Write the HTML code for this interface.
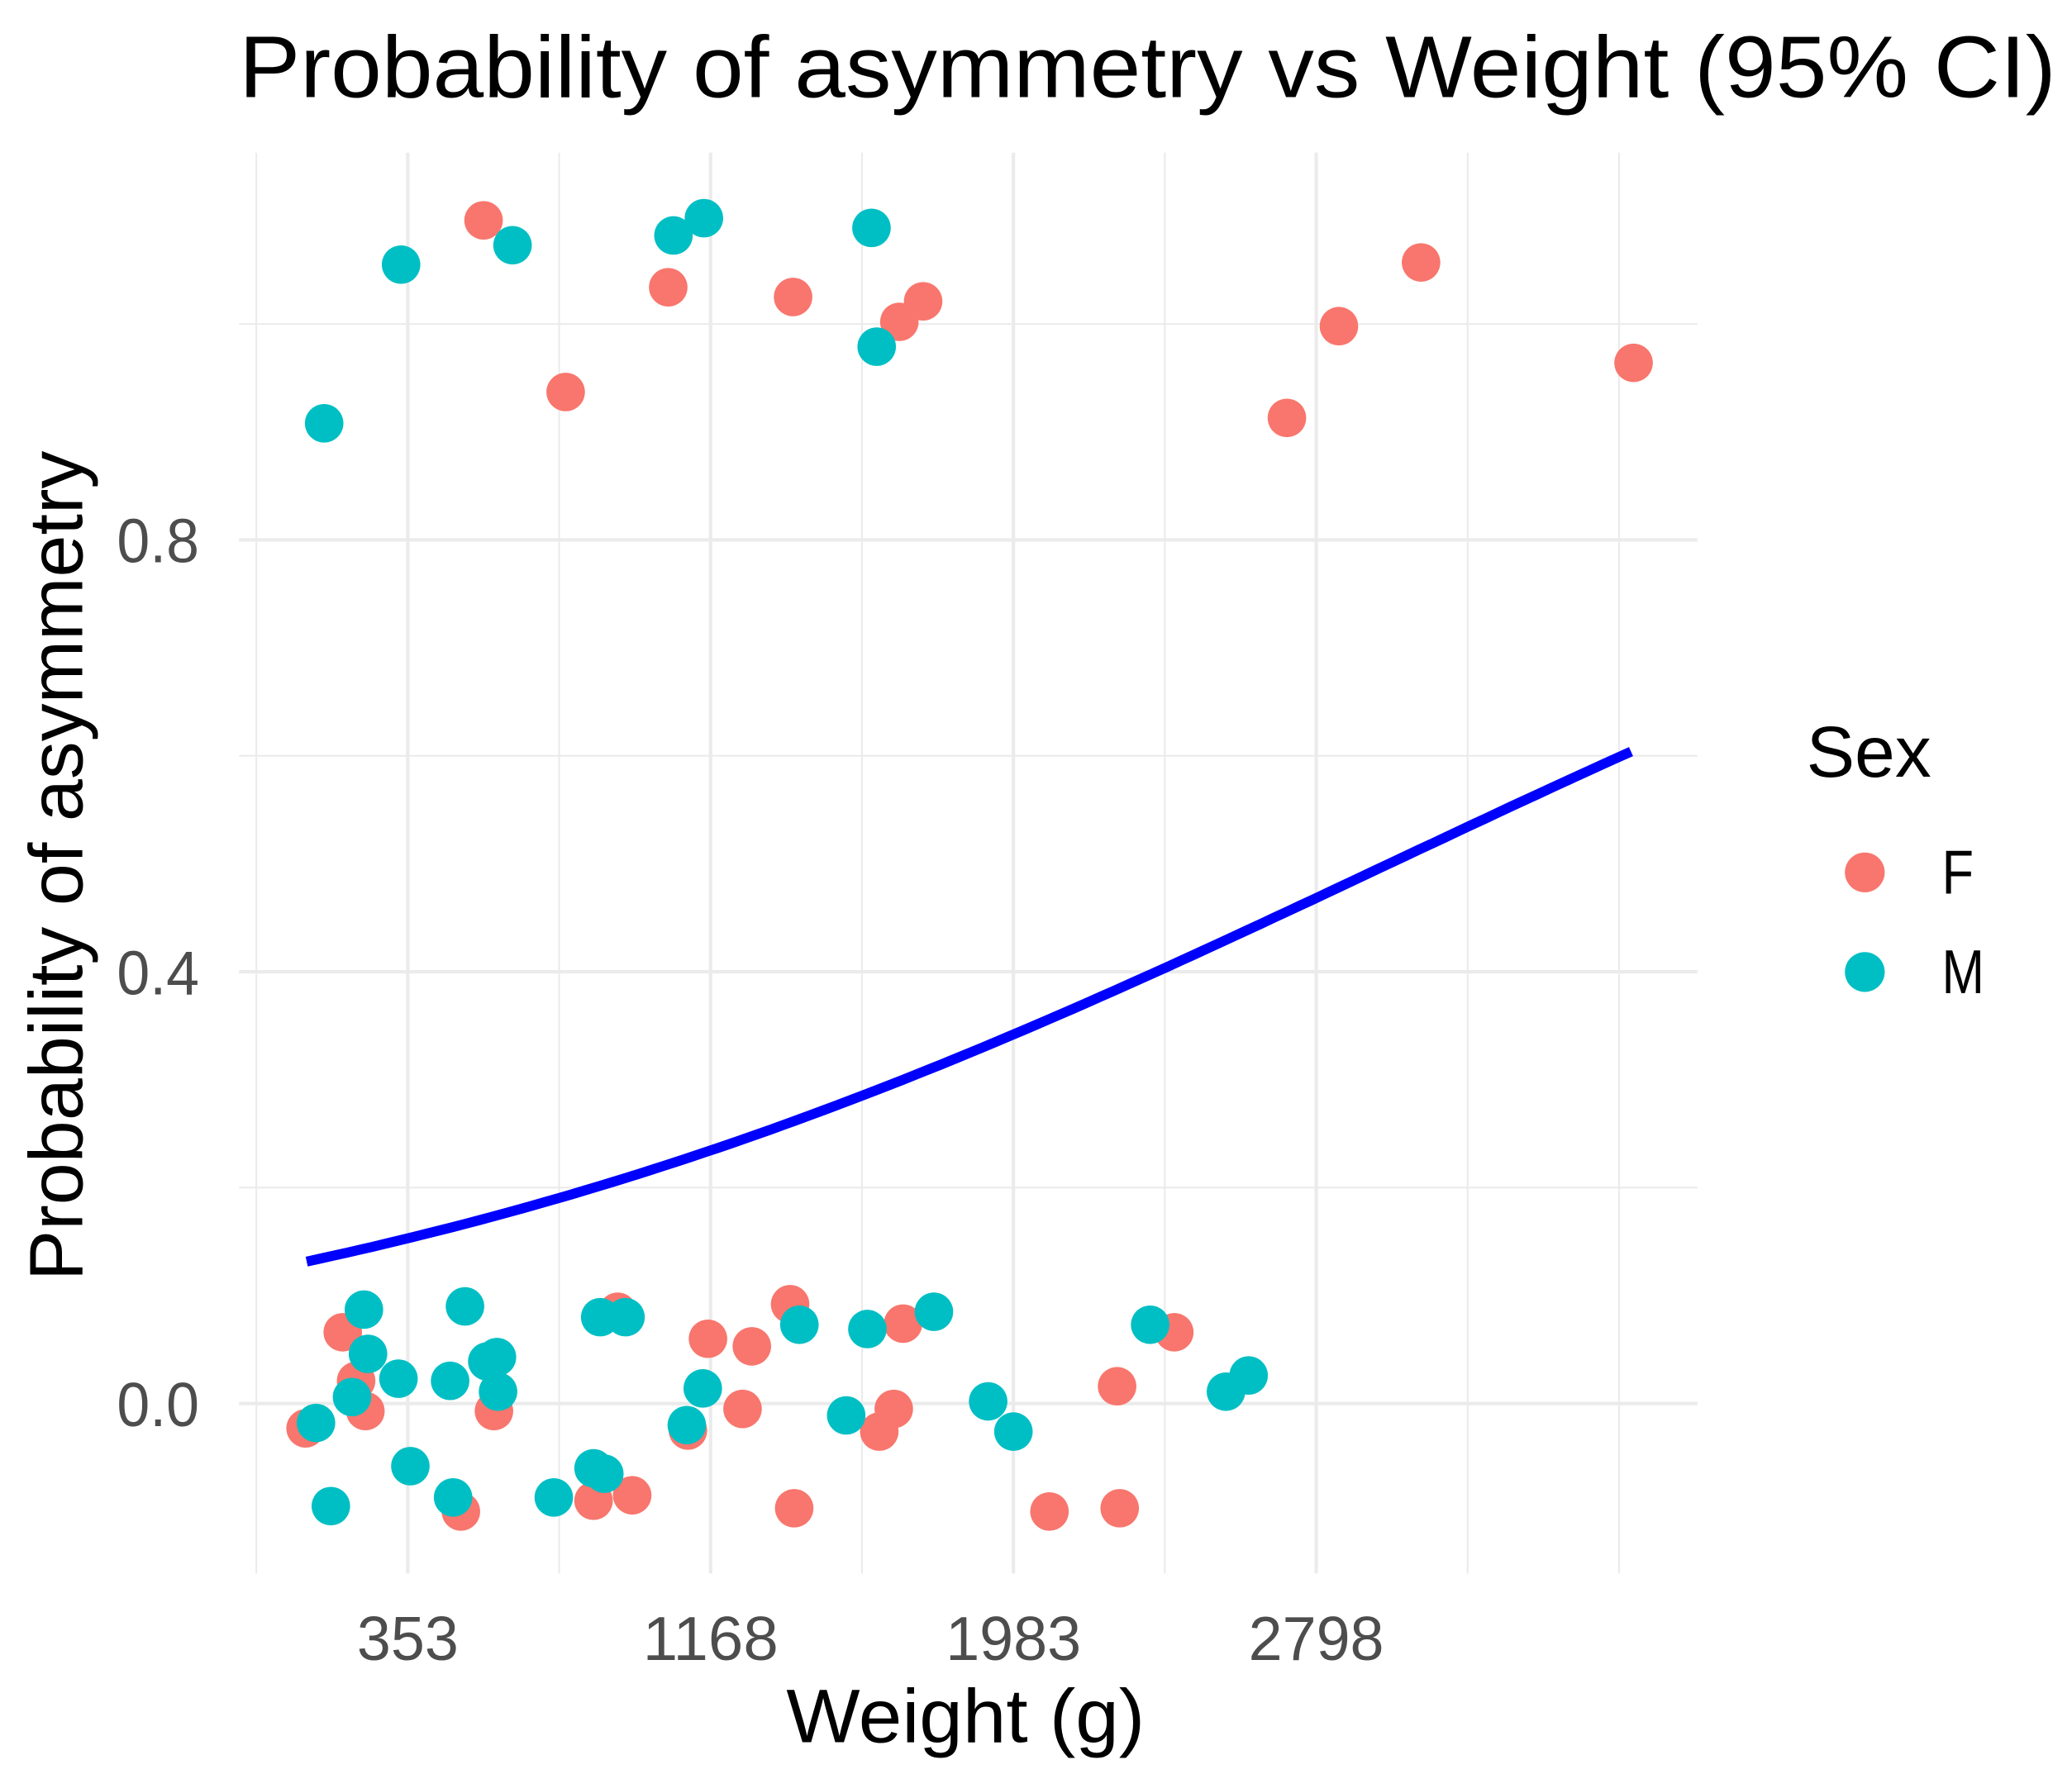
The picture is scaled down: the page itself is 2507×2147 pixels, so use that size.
<!DOCTYPE html>
<html><head><meta charset="utf-8"><style>
html,body{margin:0;padding:0;background:#fff;}
svg{display:block;}
text{font-family:"Liberation Sans",Arial,sans-serif;}
</style></head><body>
<svg id="chart" width="2507" height="2147" viewBox="0 0 1560 1336" preserveAspectRatio="none" xmlns="http://www.w3.org/2000/svg">
<text x="180" y="73" font-size="66" fill="#000" textLength="1368" lengthAdjust="spacingAndGlyphs">Probability of asymmetry vs Weight (95% CI)</text>
<g id="grid"></g>
<g id="marks"></g>
<g id="axes"></g>
<text transform="translate(62,652) rotate(-90)" text-anchor="middle" font-size="57" fill="#000" textLength="625" lengthAdjust="spacingAndGlyphs">Probability of asymmetry</text>
<text x="727" y="1312" text-anchor="middle" font-size="57" fill="#000" textLength="270" lengthAdjust="spacingAndGlyphs">Weight (g)</text>
<g>
<text x="1360" y="585" font-size="54" fill="#000" textLength="94" lengthAdjust="spacingAndGlyphs">Sex</text>
<circle cx="1404" cy="657" r="15" fill="#F8766D"/>
<text x="1462" y="673" font-size="47" fill="#000" textLength="24" lengthAdjust="spacingAndGlyphs">F</text>
<circle cx="1404" cy="732" r="15" fill="#00BFC4"/>
<text x="1462" y="748" font-size="47" fill="#000" textLength="32" lengthAdjust="spacingAndGlyphs">M</text>
</g>
</svg>
<script>
const xTicks = [353, 1168, 1983, 2798];
const xMinor = [-54.5, 760.5, 1575.5, 2390.5, 3205.5, 3613];
const yTicks = [0.0, 0.4, 0.8];
const yTickLabels = ["0.0", "0.4", "0.8"];
const yMinor = [0.2, 0.6, 1.0];
const wF = [557,778,1054,1390,1676,1740,2719,2859,3080,3652,78,178,214,239,496,585,853,918,957,1107,1161,1254,1279,1382,1393,1622,1661,1686,2080,2262,2269,2416];
const pF = [1.096,0.937,1.034,1.025,1.002,1.021,0.913,0.998,1.057,0.964,-0.023,0.066,0.021,-0.007,-0.100,-0.007,-0.090,0.085,-0.085,-0.025,0.060,-0.005,0.053,0.092,-0.097,-0.026,-0.005,0.074,-0.100,0.016,-0.097,0.066];
const wM = [128,335,635,1068,1150,1601,1615,106,146,203,235,246,328,360,467,475,507,567,593,596,746,853,882,871,939,1104,1147,1407,1533,1590,1769,1915,1983,2351,2555,2616];
const pM = [0.908,1.055,1.073,1.082,1.098,1.089,0.979,-0.018,-0.095,0.006,0.087,0.046,0.023,-0.058,0.021,-0.087,0.090,0.039,0.043,0.011,-0.087,-0.060,-0.065,0.080,0.080,-0.020,0.014,0.073,-0.011,0.069,0.085,0.002,-0.026,0.073,0.011,0.026];
const fitCoef = [-1.94, 0.000648];
const fitRange = [81, 3645];

const NS = "http://www.w3.org/2000/svg";
const X = w => 307 + (w - 353) * 228 / 815;
const Y = p => 1057 - p * 813;
const PL = 180, PR = 1278, PT = 115, PB = 1185;
function mk(tag, attrs, parent){const e=document.createElementNS(NS,tag);for(const k in attrs)e.setAttribute(k,attrs[k]);parent.appendChild(e);return e;}
const grid = document.getElementById('grid'), marks = document.getElementById('marks'), axes = document.getElementById('axes');
yMinor.forEach(v=>{const e=mk('line',{x1:PL,x2:PR,y1:Y(v),y2:Y(v),stroke:'#ebebeb','stroke-width':1.3},grid);

});
xMinor.forEach(v=>{const e=mk('line',{x1:X(v),x2:X(v),y1:PT,y2:PB,stroke:'#ebebeb','stroke-width':1.3},grid);

});
yTicks.forEach((v,i)=>{const e=mk('line',{x1:PL,x2:PR,y1:Y(v),y2:Y(v),stroke:'#ebebeb','stroke-width':2.6},grid);


const t=mk('text',{x:150,y:Y(v)+17,'text-anchor':'end','font-size':47,fill:'#4d4d4d',textLength:62,lengthAdjust:'spacingAndGlyphs'},axes);t.textContent=yTickLabels[i];

});
xTicks.forEach(v=>{const e=mk('line',{x1:X(v),x2:X(v),y1:PT,y2:PB,stroke:'#ebebeb','stroke-width':2.6},grid);


const s=String(v);
const t=mk('text',{x:X(v),y:1250,'text-anchor':'middle','font-size':47,fill:'#4d4d4d',textLength:s.length*25.5,lengthAdjust:'spacingAndGlyphs'},axes);t.textContent=s;

});
wF.forEach((w,i)=>{const c=mk('circle',{cx:X(w),cy:Y(pF[i]),r:14.5,fill:'#F8766D'},marks);

});
wM.forEach((w,i)=>{const c=mk('circle',{cx:X(w),cy:Y(pM[i]),r:14.5,fill:'#00BFC4'},marks);

});
let d='';
for(let k=0;k<=100;k++){const w=fitRange[0]+(fitRange[1]-fitRange[0])*k/100;const p=1/(1+Math.exp(-(fitCoef[0]+fitCoef[1]*w)));d+=(k?'L':'M')+X(w).toFixed(1)+','+Y(p).toFixed(1);}
const ln=mk('path',{d:d,fill:'none',stroke:'#0000FF','stroke-width':7.5},marks);


</script>
</body></html>
